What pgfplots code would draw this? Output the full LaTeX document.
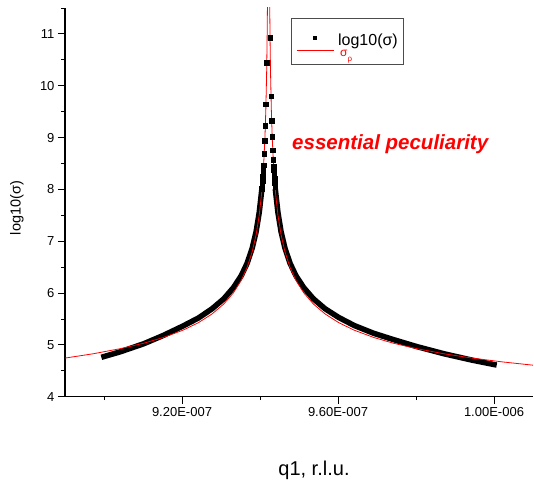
\documentclass[border=0pt]{standalone}
\usepackage{pgfplots}
\pgfplotsset{compat=1.18}
\usepackage{fontspec}
\setmainfont{Liberation Sans}
\pgfplotsset{
  sqlegend/.style={legend image code/.code={\path[draw=none] (0pt,0pt) -- (37pt,0pt); \fill[black, draw=none] (16.5pt,-5.3pt) rectangle (20.5pt,-1.3pt);}},
  lnlegend/.style={legend image code/.code={\path[draw=none] (0pt,-8.7pt) -- (37pt,-8.7pt); \draw[red, line width=0.8pt] (0pt,2.3pt) -- (37pt,2.3pt);}},
}
\begin{document}
\begin{tikzpicture}
\useasboundingbox (-65pt,-89.3pt) rectangle (469pt,396.7pt);
\begin{axis}[
  scale only axis, width=468pt, height=388.7pt,
  xmin=8.9e-7, xmax=1.01e-6, ymin=4, ymax=11.5,
  axis x line*=bottom, axis y line*=left,
  axis line style={line width=1.3pt},
  scaled x ticks=false,
  xtick={9.2e-7,9.6e-7,1e-6}, xticklabels={9.20E-007,9.60E-007,1.00E-006},
  minor xtick={9.0e-7,9.4e-7,9.8e-7},
  ytick={4,5,...,11}, minor ytick={4.5,5.5,...,11.5},
  tick align=outside, major tick length=7pt, minor tick length=3.5pt,
  every tick/.style={black, line width=0.9pt},
  /pgf/number format/assume math mode=true,
  ticklabel style={font=\fontsize{13}{15}\selectfont},
  xlabel={q1, r.l.u.}, ylabel={log10(σ)},
  xlabel style={at={(axis description cs:0.532,-0.1886)}, anchor=center, font=\fontsize{20}{22}\selectfont},
  ylabel style={at={(axis description cs:-0.1026,0.4855)}, anchor=center, font=\fontsize{14.5}{16}\selectfont},
  legend style={at={(axis description cs:0.4829,0.9735)}, anchor=north west,
    draw=black!70, line width=0.7pt, fill=white,
    font=\fontsize{16}{17}\selectfont, inner xsep=5pt, inner ysep=3pt,
    nodes={inner sep=1pt}, row sep=-1.4pt, cells={anchor=west},
    /tikz/every odd column/.append style={column sep=3pt}},
]
% dense part of the measured series (left branch)
\addplot[black, line width=5.5pt, line cap=rect, line join=round, forget plot] coordinates {
(9.000e-7,4.775) (9.042e-7,4.867) (9.102e-7,5.022) (9.152e-7,5.182) (9.202e-7,5.362)
(9.242e-7,5.518) (9.277e-7,5.696) (9.307e-7,5.888) (9.332e-7,6.106) (9.352e-7,6.336)
(9.367e-7,6.575) (9.380e-7,6.866) (9.390e-7,7.184) (9.398e-7,7.553) (9.404e-7,7.955)
};
% dense part of the measured series (right branch)
\addplot[black, line width=5.5pt, line cap=rect, line join=round, forget plot] coordinates {
(9.440e-7,7.955) (9.446e-7,7.553) (9.454e-7,7.184) (9.464e-7,6.866) (9.477e-7,6.575)
(9.492e-7,6.336) (9.512e-7,6.106) (9.537e-7,5.888) (9.567e-7,5.696) (9.602e-7,5.528)
(9.642e-7,5.372) (9.692e-7,5.222) (9.742e-7,5.102) (9.802e-7,4.967) (9.872e-7,4.828)
(9.944e-7,4.705) (10.000e-7,4.621)
};
% sparse points near the peak
\addplot[only marks, mark=square*, mark size=2.3pt, black, sqlegend]
  coordinates {
(9.42577e-7,10.93) (9.41735e-7,10.44) (9.42827e-7,9.80) (9.41522e-7,9.64)
(9.42995e-7,9.33) (9.41362e-7,9.23) (9.43139e-7,9.02) (9.41219e-7,8.94)
(9.43287e-7,8.76) (9.41069e-7,8.69) (9.43414e-7,8.57) (9.40911e-7,8.47)
(9.43505e-7,8.45) (9.40863e-7,8.41) (9.43570e-7,8.37) (9.40796e-7,8.33)
(9.43640e-7,8.29) (9.40724e-7,8.25) (9.43714e-7,8.21) (9.40647e-7,8.17)
(9.43793e-7,8.13) (9.40565e-7,8.09) (9.43878e-7,8.05) (9.40477e-7,8.01)
};
\addlegendentry{\rule{0pt}{22.5pt}log10(σ)}
% model curve
\addplot[red, line width=0.8pt, lnlegend] coordinates {
(8.900e-7,4.745) (8.972e-7,4.828) (9.042e-7,4.927) (9.102e-7,5.032) (9.152e-7,5.142)
(9.202e-7,5.282) (9.242e-7,5.428) (9.277e-7,5.596) (9.307e-7,5.788) (9.332e-7,6.006)
(9.352e-7,6.246) (9.367e-7,6.495) (9.380e-7,6.796) (9.390e-7,7.124) (9.398e-7,7.503)
(9.404e-7,7.915) (9.409e-7,8.426) (9.4125e-7,8.968) (9.415e-7,9.548) (9.417e-7,10.250)
(9.4182e-7,10.879) (9.4191e-7,11.550) (9.4200e-7,12.57)
(9.4240e-7,12.57) (9.4249e-7,11.550) (9.4258e-7,10.879) (9.4270e-7,10.250) (9.4290e-7,9.548)
(9.4315e-7,8.968) (9.4350e-7,8.426) (9.4400e-7,7.915) (9.4460e-7,7.503) (9.4540e-7,7.124)
(9.4640e-7,6.796) (9.4770e-7,6.495) (9.4920e-7,6.246) (9.5120e-7,6.006) (9.5370e-7,5.788)
(9.5670e-7,5.596) (9.6020e-7,5.428) (9.6420e-7,5.282) (9.6920e-7,5.142) (9.7420e-7,5.032)
(9.8020e-7,4.927) (9.8720e-7,4.828) (9.9440e-7,4.745) (10.022e-7,4.671) (10.100e-7,4.608)
};
\addlegendentry{\fontsize{12}{13}\selectfont\rule[-12.7pt]{0pt}{22pt}\textcolor{red}{\,σ\raisebox{-5pt}{\fontsize{8}{8}\selectfont ρ}}}
\node[anchor=base west, text=red, font=\fontsize{20.5}{23}\selectfont\bfseries\itshape]
  at (rel axis cs:0.478,0.6347) {essential peculiarity};
\end{axis}
\end{tikzpicture}
\end{document}
